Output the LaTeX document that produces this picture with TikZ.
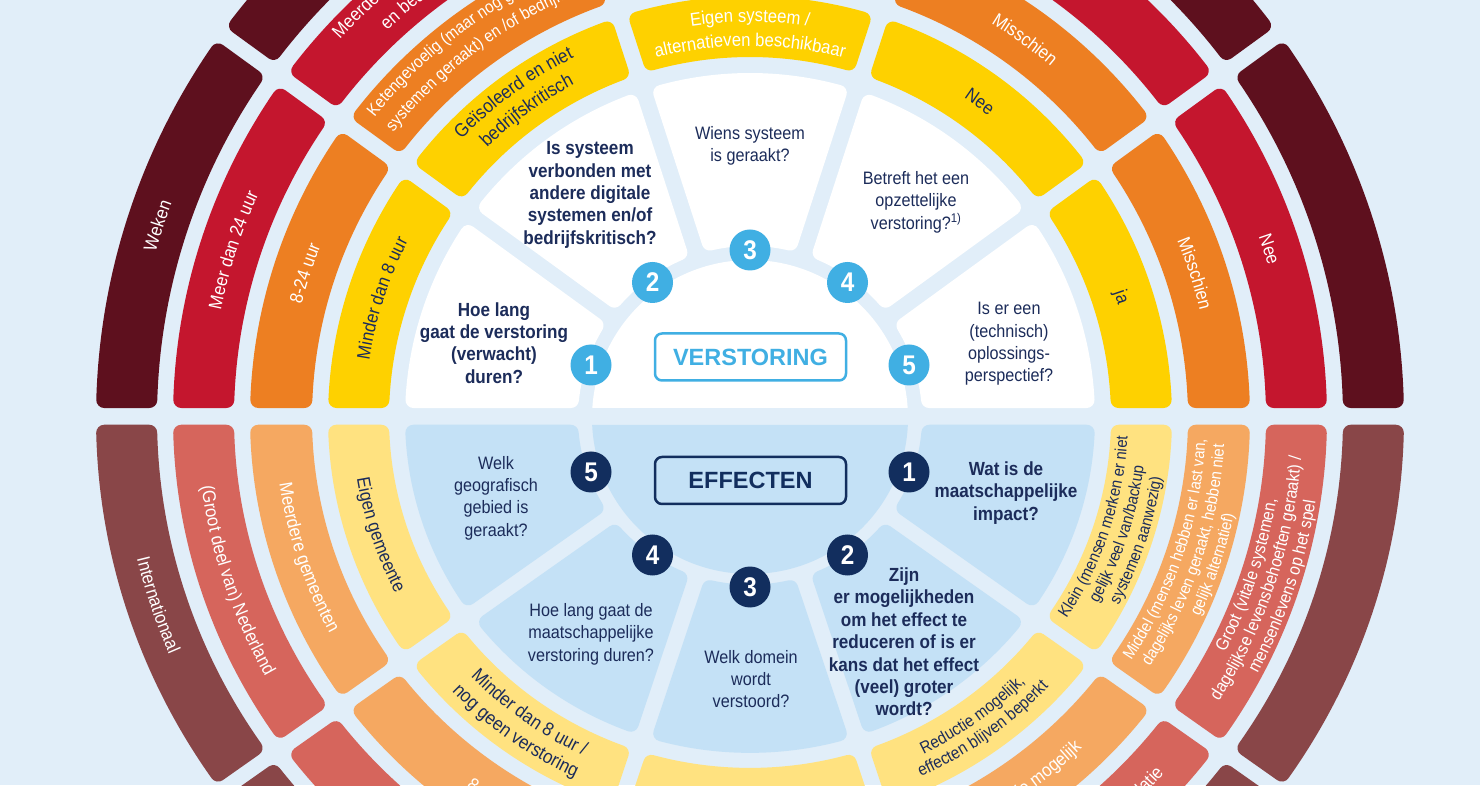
\documentclass[tikz,border=0pt]{standalone}
\usepackage{fontspec}
\setmainfont{Liberation Sans}
\newfontfamily\cond{Liberation Sans}[FakeStretch=0.9]
\usetikzlibrary{calc,decorations.text}
\definecolor{bg}{RGB}{225,238,249}
\definecolor{tdark}{RGB}{94,16,30}
\definecolor{tred}{RGB}{196,22,46}
\definecolor{torange}{RGB}{237,127,34}
\definecolor{tyellow}{RGB}{254,209,0}
\definecolor{bdark}{RGB}{137,70,72}
\definecolor{bred}{RGB}{214,101,92}
\definecolor{borange}{RGB}{245,168,97}
\definecolor{byellow}{RGB}{255,226,128}
\definecolor{bblue}{RGB}{196,225,246}
\definecolor{lblue}{RGB}{64,175,227}
\definecolor{navy}{RGB}{18,46,94}
\definecolor{navytext}{RGB}{28,44,90}

\def\kk{1}
\newcommand\ringseg[8]{%
  \pgfmathsetmacro\sgRi{#5+8}%
  \pgfmathsetmacro\sgRo{#6-8}%
  \pgfmathsetmacro\sgRik{\kk*\sgRi}%
  \pgfmathsetmacro\sgRok{\kk*\sgRo}%
  \pgfmathsetmacro\sgPa{#3+asin((#7+8)/\sgRi)}%
  \pgfmathsetmacro\sgPb{#3+asin((#7+8)/\sgRo)}%
  \pgfmathsetmacro\sgQa{#4-asin((#8+8)/\sgRi)}%
  \pgfmathsetmacro\sgQb{#4-asin((#8+8)/\sgRo)}%
  \filldraw[shift={(#2)},fill=#1,draw=#1,line width=16pt,line join=round]
    ({\sgRi*cos(\sgPa)},{\sgRik*sin(\sgPa)}) -- ({\sgRo*cos(\sgPb)},{\sgRok*sin(\sgPb)})
    arc[start angle=\sgPb,end angle=\sgQb,x radius=\sgRo,y radius=\sgRok]
    -- ({\sgRi*cos(\sgQa)},{\sgRik*sin(\sgQa)})
    arc[start angle=\sgQa,end angle=\sgPa,x radius=\sgRi,y radius=\sgRik] -- cycle;
}
\newcommand\ringfont[2]{\cond\fontsize{#1}{#1}\selectfont\color{#2}}
\newcommand\ringtext[7]{%
  \pgfmathsetmacro\rtK{\kk*#2}%
  \path[shift={(#1)},decorate,decoration={text along path,text align=#5,text={|#6|#7}}]
    ({#2*cos(#3)},{\rtK*sin(#3)}) arc[start angle=#3,end angle=#4,x radius=#2,y radius=\rtK];
}
\tikzset{
  numT/.style={circle,fill=lblue,minimum size=41pt,inner sep=0pt,text=white,font=\cond\bfseries\fontsize{27}{27}\selectfont},
  numB/.style={numT,fill=navy},
  boxlab/.style={rounded corners=7pt,minimum width=191pt,minimum height=47pt,line width=2.5pt,inner sep=0pt,font=\bfseries\fontsize{23.5}{24}\selectfont},
  qr/.style={align=center,inner sep=0pt,text=navytext,font=\cond\fontsize{18}{22.4}\selectfont},
  qb/.style={qr,font=\cond\bfseries\fontsize{19}{22.4}\selectfont},
}
\begin{document}
\begin{tikzpicture}[x=1pt,y=1pt]
\useasboundingbox (0,0) rectangle (1480,785);
\clip (0,0) rectangle (1480,785);
\fill[bg] (0,0) rectangle (1480,785);
\coordinate (Ct) at (750,367);
\coordinate (Cb) at (750,367);

% top half rings (circular)
\def\kk{1}
\foreach \i in {0,...,4}{%
  \pgfmathsetmacro\sgA{36*\i}%
  \pgfmathsetmacro\sgB{36*\i+36}%
  \pgfmathsetmacro\sgOA{ifthenelse(\i==0,10,8)}%
  \pgfmathsetmacro\sgOB{ifthenelse(\i==4,10,8)}%
  \ringseg{white}{Ct}{\sgA}{\sgB}{172}{345}{\sgOA}{\sgOB}%
  \ringseg{tyellow}{Ct}{\sgA}{\sgB}{361}{422}{\sgOA}{\sgOB}%
  \ringseg{torange}{Ct}{\sgA}{\sgB}{438}{500}{\sgOA}{\sgOB}%
  \ringseg{tred}{Ct}{\sgA}{\sgB}{516}{577}{\sgOA}{\sgOB}%
  \ringseg{tdark}{Ct}{\sgA}{\sgB}{593}{654}{\sgOA}{\sgOB}%
}
\fill[white,shift={(Ct)}] ({158*cos(3.63)},10) arc[start angle=3.63,end angle=176.37,radius=158] -- cycle;

% top ring texts
\ringtext{Ct}{385}{180}{144}{center}{\ringfont{18.5}{navytext}}{Minder dan 8 uur}
\ringtext{Ct}{462.5}{180}{144}{center}{\ringfont{18.5}{white}}{8-24 uur}
\ringtext{Ct}{540}{180}{144}{center}{\ringfont{18.5}{white}}{Meer dan 24 uur}
\ringtext{Ct}{617}{180}{144}{center}{\ringfont{18.5}{white}}{Weken}
\ringtext{Ct}{401}{144}{108}{center}{\ringfont{19}{navytext}}{Geïsoleerd en niet}
\ringtext{Ct}{377}{144}{108}{center}{\ringfont{19}{navytext}}{bedrijfskritisch}
\ringtext{Ct}{481}{141.3}{90}{left}{\ringfont{17}{white}}{Ketengevoelig (maar nog geen}
\ringtext{Ct}{457}{141.3}{90}{left}{\ringfont{17}{white}}{systemen geraakt) en /of bedrijfskritisch}
\ringtext{Ct}{558}{137.3}{95}{left}{\ringfont{18.5}{white}}{Meerdere systemen geraakt}
\ringtext{Ct}{531}{133.1}{95}{left}{\ringfont{18.5}{white}}{en bedrijfskritisch}
\ringtext{Ct}{396}{108}{72}{center}{\ringfont{18.5}{white}}{Eigen systeem /}
\ringtext{Ct}{372}{108}{72}{center}{\ringfont{18.5}{white}}{alternatieven beschikbaar}
\ringtext{Ct}{385}{72}{36}{center}{\ringfont{18.5}{navytext}}{Nee}
\ringtext{Ct}{462.5}{72}{36}{center}{\ringfont{18.5}{white}}{Misschien}
\ringtext{Ct}{385}{36}{0}{center}{\ringfont{18.5}{navytext}}{ja}
\ringtext{Ct}{462.5}{36}{0}{center}{\ringfont{18.5}{white}}{Misschien}
\ringtext{Ct}{540}{36}{0}{center}{\ringfont{18.5}{white}}{Nee}

% bottom half rings (slightly flattened)
\def\kk{0.97}
\foreach \i in {0,...,4}{%
  \pgfmathsetmacro\sgA{180+36*\i}%
  \pgfmathsetmacro\sgB{216+36*\i}%
  \pgfmathsetmacro\sgOA{ifthenelse(\i==0,7.2,8)}%
  \pgfmathsetmacro\sgOB{ifthenelse(\i==4,7.2,8)}%
  \ringseg{bblue}{Cb}{\sgA}{\sgB}{172}{345}{\sgOA}{\sgOB}%
  \ringseg{byellow}{Cb}{\sgA}{\sgB}{361}{422}{\sgOA}{\sgOB}%
  \ringseg{borange}{Cb}{\sgA}{\sgB}{438}{500}{\sgOA}{\sgOB}%
  \ringseg{bred}{Cb}{\sgA}{\sgB}{516}{577}{\sgOA}{\sgOB}%
  \ringseg{bdark}{Cb}{\sgA}{\sgB}{593}{654}{\sgOA}{\sgOB}%
}
\fill[bblue,shift={(Cb)}] ({158*cos(-2.57)},{156*sin(-2.57)}) arc[start angle=-2.57,end angle=-177.43,x radius=158,y radius=156] -- cycle;

% bottom ring texts
\ringtext{Cb}{398}{180}{216}{center}{\ringfont{18.5}{navytext}}{Eigen gemeente}
\ringtext{Cb}{475.5}{180}{216}{center}{\ringfont{18.5}{white}}{Meerdere gemeenten}
\ringtext{Cb}{553}{180}{216}{center}{\ringfont{18.5}{white}}{(Groot deel van) Nederland}
\ringtext{Cb}{630}{180}{216}{center}{\ringfont{18.5}{white}}{Internationaal}
\ringtext{Cb}{386}{216}{252}{center}{\ringfont{19}{navytext}}{Minder dan 8 uur /}
\ringtext{Cb}{410}{216}{252}{center}{\ringfont{19}{navytext}}{nog geen verstoring}
\ringtext{Cb}{475.5}{219}{255}{center}{\ringfont{18.5}{white}}{8-24 uur}
\ringtext{Cb}{387.5}{288}{324}{center}{\ringfont{17}{navytext}}{Reductie mogelijk,}
\ringtext{Cb}{407.5}{288}{324}{center}{\ringfont{17}{navytext}}{effecten blijven beperkt}
\ringtext{Cb}{475.5}{286}{322}{center}{\ringfont{18.5}{white}}{Geen reductie mogelijk}
\ringtext{Cb}{553}{290}{318.5}{right}{\ringfont{18.5}{white}}{Escalatie}
\ringtext{Cb}{378}{324}{360}{center}{\ringfont{16.5}{navytext}}{Klein (mensen merken er niet}
\ringtext{Cb}{397}{324}{360}{center}{\ringfont{16.5}{navytext}}{gelijk veel van/backup}
\ringtext{Cb}{416}{324}{360}{center}{\ringfont{16.5}{navytext}}{systemen aanwezig)}
\ringtext{Cb}{456}{324}{360}{center}{\ringfont{16.5}{white}}{Middel (mensen hebben er last van,}
\ringtext{Cb}{475}{324}{360}{center}{\ringfont{16.5}{white}}{dagelijks leven geraakt, hebben niet}
\ringtext{Cb}{494}{324}{360}{center}{\ringfont{16.5}{white}}{gelijk alternatief)}
\ringtext{Cb}{533}{324}{360}{center}{\ringfont{17.5}{white}}{Groot (vitale systemen,}
\ringtext{Cb}{552.5}{324}{360}{center}{\ringfont{17.5}{white}}{dagelijkse levensbehoeften geraakt) /}
\ringtext{Cb}{572}{324}{360}{center}{\ringfont{17.5}{white}}{mensenlevens op het spel}

% questions
\node[qb] (q1t) at (494,442) {Hoe lang\\gaat de verstoring\\(verwacht)\\duren?};
\node[qb] (q2t) at (590,590) {Is systeem\\verbonden met\\andere digitale\\systemen en/of\\bedrijfskritisch?};
\node[qr] (q3t) at (750,639) {Wiens systeem\\is geraakt?};
\node[qr] (q4t) at (916,583) {Betreft het een\\opzettelijke\\verstoring?\textsuperscript{1)}};
\node[qr] (q5t) at (1009,441) {Is er een\\(technisch)\\oplossings-\\perspectief?};
\node[qr] (q5b) at (496,287) {Welk\\geografisch\\gebied is\\geraakt?};
\node[qb] (q1b) at (1006,292) {Wat is de\\maatschappelijke\\impact?};
\node[qr] (q4b) at (591,151) {Hoe lang gaat de\\maatschappelijke\\verstoring duren?};
\node[qr] (q3b) at (751,106) {Welk domein\\wordt\\verstoord?};
\node[qb] (q2b) at (904,143) {Zijn\\er mogelijkheden\\om het effect te\\reduceren of is er\\kans dat het effect\\(veel) groter\\wordt?};

% number circles
\node[numT] (n1t) at (591,420) {1};
\node[numT] (n2t) at (652.5,502.5) {2};
\node[numT] (n3t) at (750,535) {3};
\node[numT] (n4t) at (847.5,502.5) {4};
\node[numT] (n5t) at (909,420) {5};
\node[numB] (n1b) at (909,313) {1};
\node[numB] (n2b) at (847.5,230) {2};
\node[numB] (n3b) at (750,198) {3};
\node[numB] (n4b) at (652.5,230) {4};
\node[numB] (n5b) at (591,313) {5};

% boxes
\node[boxlab,draw=lblue,fill=white,text=lblue] (boxV) at (750.5,428) {VERSTORING};
\node[boxlab,draw=navy,fill=bblue,text=navy] (boxE) at (750.5,304.5) {EFFECTEN};
\end{tikzpicture}
\end{document}
